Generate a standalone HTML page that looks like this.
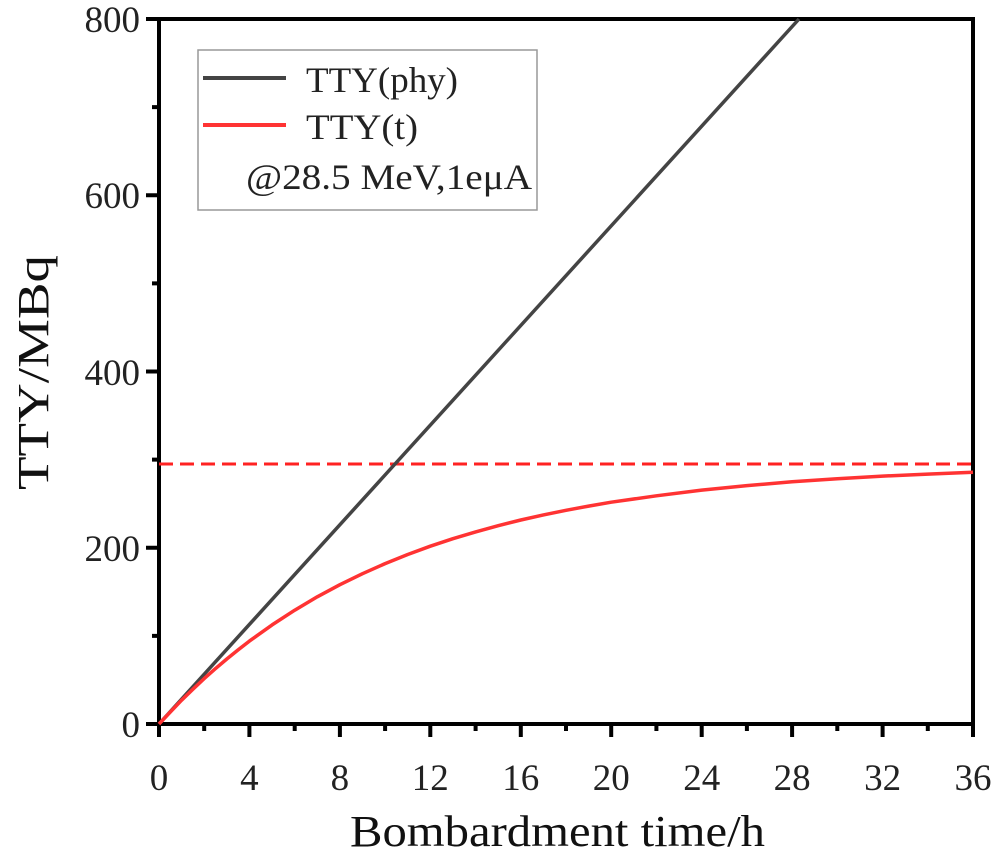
<!DOCTYPE html>
<html><head><meta charset="utf-8"><style>body{margin:0;background:#fff}</style></head><body>
<svg width="1000" height="854" xmlns="http://www.w3.org/2000/svg">
<g stroke="#000" stroke-width="4" fill="none">
<rect x="159" y="19" width="814" height="705"/>
</g>
<g stroke="#000" stroke-width="4">
<path d="M159,724v13M249.4,724v13M339.9,724v13M430.3,724v13M520.8,724v13M611.2,724v13M701.7,724v13M792.1,724v13M882.6,724v13M973,724v13"/>
<path d="M204.2,724v7M294.7,724v7M385.1,724v7M475.6,724v7M566,724v7M656.4,724v7M746.9,724v7M837.3,724v7M927.8,724v7"/>
<path d="M159,724h-13M159,547.75h-13M159,371.5h-13M159,195.25h-13M159,19h-13"/>
<path d="M159,635.9h-7M159,459.6h-7M159,283.4h-7M159,107.1h-7"/>
</g>
<g font-family="Liberation Serif, serif" font-size="37" fill="#222" text-anchor="middle">
<text x="159" y="790">0</text><text x="249.4" y="790">4</text><text x="339.9" y="790">8</text>
<text x="430.3" y="790">12</text><text x="520.8" y="790">16</text><text x="611.2" y="790">20</text>
<text x="701.7" y="790">24</text><text x="792.1" y="790">28</text><text x="882.6" y="790">32</text><text x="973" y="790">36</text>
</g>
<g font-family="Liberation Serif, serif" font-size="37" fill="#222" text-anchor="end">
<text x="140" y="737">0</text><text x="140" y="561">200</text><text x="140" y="385">400</text><text x="140" y="208">600</text><text x="140" y="32">800</text>
</g>
<text x="350" y="846" font-family="Liberation Serif, serif" font-size="44" fill="#111" textLength="415" lengthAdjust="spacingAndGlyphs">Bombardment time/h</text>
<text transform="translate(48,490) rotate(-90)" font-family="Liberation Serif, serif" font-size="44" fill="#111" textLength="235" lengthAdjust="spacingAndGlyphs">TTY/MBq</text>
<line x1="159" y1="464" x2="973" y2="464" stroke="#f22" stroke-width="3" stroke-dasharray="14,7"/>
<line x1="159" y1="724" x2="799" y2="19" stroke="#444" stroke-width="3.5"/>
<path fill="none" stroke="#f33" stroke-width="3.5" stroke-linejoin="round" d="M159,724 L170.3,712 L181.6,700.2 L192.9,689.2 L204.2,678.6 L215.5,668.6 L226.8,659.0 L238.1,649.9 L249.4,641.1 L272.1,624.9 L294.7,610.2 L317.3,596.8 L339.9,584.7 L362.5,573.7 L385.1,563.6 L407.7,554.5 L430.3,546.2 L452.9,538.7 L475.6,531.9 L498.2,525.7 L520.8,520.0 L543.4,514.9 L566,510.3 L588.6,506.1 L611.2,502.2 L656.4,495.8 L701.7,490.1 L746.9,485.6 L792.1,481.8 L837.3,478.8 L882.6,476.1 L927.8,474.1 L973,472.3"/>
<rect x="198" y="50" width="339" height="160" fill="none" stroke="#999" stroke-width="1.5"/>
<line x1="203" y1="78" x2="286" y2="78" stroke="#444" stroke-width="4"/>
<line x1="203" y1="125" x2="286" y2="125" stroke="#f33" stroke-width="4"/>
<g font-family="Liberation Serif, serif" font-size="36" fill="#222">
<text x="306" y="92" textLength="152" lengthAdjust="spacingAndGlyphs">TTY(phy)</text>
<text x="306" y="139" textLength="112" lengthAdjust="spacingAndGlyphs">TTY(t)</text>
<text x="246" y="189" textLength="286" lengthAdjust="spacingAndGlyphs">@28.5 MeV,1eμA</text>
</g>
</svg>
</body></html>
